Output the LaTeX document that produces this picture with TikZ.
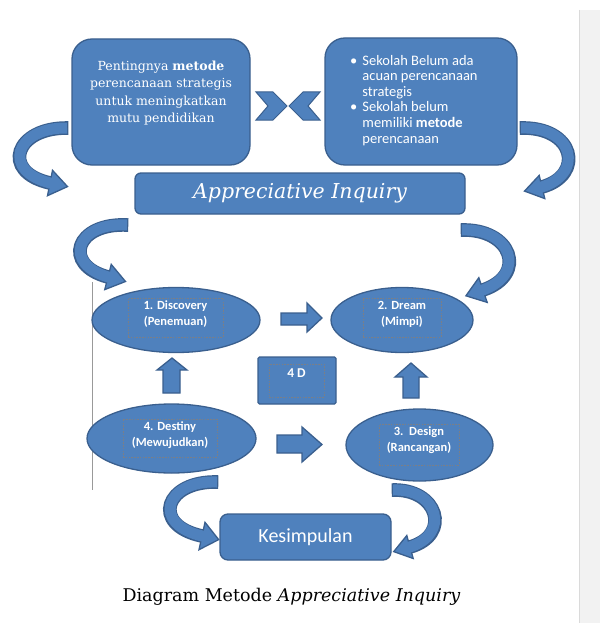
\documentclass[tikz,border=0pt]{standalone}
\usepackage{fontspec}
\setmainfont{DejaVu Serif}
\newfontfamily\boxserif{DejaVu Serif}
\newfontfamily\calib{Carlito}
\usetikzlibrary{shapes.geometric}
\definecolor{bfill}{HTML}{4F81BD}
\definecolor{bdraw}{HTML}{3A5F8E}
\definecolor{panel}{HTML}{F2F2F2}
\definecolor{paneledge}{HTML}{DADADA}
\definecolor{dashc}{HTML}{7A7F88}
\newcommand{\curvarr}[7]{%
  \path[shp] #5 -- #6 -- #7 -- cycle;
  \draw[bdraw, line width=13.6pt, shorten <=-1.3pt] #1 .. controls #2 and #3 .. #4;
  \draw[bfill, line width=11pt, shorten >=-2.5pt] #1 .. controls #2 and #3 .. #4;
}
\begin{document}
\begin{tikzpicture}[x=1pt,y=-1pt,
  shp/.style={fill=bfill, draw=bdraw, line width=1.3pt, line join=miter},
  rbox/.style={shp, rounded corners=#1, inner sep=0pt},
  ell/.style={shp, ellipse, inner sep=0pt},
  inrect/.style={draw=dashc, line width=0.8pt, dash pattern=on 1.6pt off 1.2pt, inner sep=0pt},
  wt/.style={text=white, align=center, inner sep=0pt},
  stxt/.style={wt, font=\calib\bfseries\fontsize{12.5}{16}\selectfont},
]
\useasboundingbox (0,0) rectangle (600,623);
% page edge panel
\fill[panel] (579,10) rectangle (600,623);
\draw[paneledge, line width=1.5pt] (579.5,10) -- (579.5,623);
% vertical grey line
\draw[black!40, line width=0.8pt] (92,282) -- (92,490);

% curved arrows
\curvarr{(67,128)}{(15,127)}{(0,172)}{(50,183)}{(52.5,170.3)}{(67.5,186.6)}{(47.5,195.7)}
\curvarr{(521,128)}{(575,126)}{(585,175)}{(542,187)}{(539.2,175.4)}{(524.5,191.1)}{(544.8,198.6)}
\curvarr{(127,225)}{(75,222)}{(62,265)}{(108,277)}{(111.25,264.4)}{(125.5,281.5)}{(104.75,289.6)}
\curvarr{(462,230)}{(512,228)}{(528,275)}{(483,290)}{(478.8,277.7)}{(465.9,295.8)}{(487.2,302.4)}
\curvarr{(217,482)}{(165,480)}{(150,525)}{(202,536)}{(205,522.3)}{(218.7,539.6)}{(199,549.7)}
\curvarr{(393,490)}{(438,488)}{(452,535)}{(410,547)}{(406.8,535.5)}{(393.7,551.6)}{(413.2,558.5)}

% top boxes
\node[rbox=20pt, minimum width=178pt, minimum height=126pt] (tl) at (161,102) {};
\node[wt, font=\boxserif\fontsize{12.5}{17.3}\selectfont] (tltext) at (161,93) {Pentingnya \textbf{metode}\\perencanaan strategis\\untuk meningkatkan\\mutu pendidikan};
\node[rbox=20pt, minimum width=192pt, minimum height=127pt] (tr) at (421,101.5) {};
\node[wt, anchor=west, font=\calib\fontsize{14.5}{15.6}\selectfont] (trtext) at (350,101) {%
  \begin{tabular}{@{}l@{\hspace{5pt}}l@{}}
  •& Sekolah Belum ada\\
   & acuan perencanaan\\
   & strategis\\
  •& Sekolah belum\\
   & memiliki \textbf{metode}\\
   & perencanaan
  \end{tabular}};
% bowtie
\path[shp, line width=1pt] (256,92) -- (273,92) -- (287,106) -- (273,120) -- (256,120) -- (268,106) -- cycle;
\path[shp, line width=1pt] (320,92) -- (303,92) -- (289,106) -- (303,120) -- (320,120) -- (308,106) -- cycle;

% Appreciative Inquiry
\node[rbox=6pt, minimum width=330pt, minimum height=41pt, text=white,
  font=\boxserif\itshape\fontsize{20.5}{22}\selectfont] (ai) at (300,193.5) {Appreciative Inquiry};

% ellipses
\node[ell, minimum width=168pt, minimum height=65pt] (disc) at (176,320) {};
\node[inrect, minimum width=95pt, minimum height=39pt] (discr) at (175.5,317.5) {};
\node[stxt] (disct) at (175.5,314) {1. Discovery\\(Penemuan)};

\node[ell, minimum width=142pt, minimum height=65pt] (dream) at (402,320) {};
\node[inrect, minimum width=78pt, minimum height=39pt] (dreamr) at (402,317.5) {};
\node[stxt] (dreamt) at (402,314) {2. Dream\\(Mimpi)};

\node[ell, minimum width=169pt, minimum height=69pt] (dest) at (171.5,438.5) {};
\node[inrect, minimum width=94pt, minimum height=38pt] (destr) at (170,438) {};
\node[stxt] (destt) at (170,435) {4. Destiny\\(Mewujudkan)};

\node[ell, minimum width=147pt, minimum height=72pt] (design) at (419.5,445) {};
\node[inrect, minimum width=80pt, minimum height=41pt] (designr) at (419,444.5) {};
\node[stxt] (designt) at (419,440) {3.\ \ Design\\(Rancangan)};

% 4 D
\node[rbox=1.5pt, minimum width=78pt, minimum height=47pt] (fourd) at (297,380.5) {};
\node[inrect, minimum width=55pt, minimum height=33pt] (fourdr) at (296.5,380.5) {};
\node[stxt, font=\calib\bfseries\fontsize{13.5}{16}\selectfont] (fourdt) at (296.5,373) {4 D};

% straight block arrows
\path[shp] (281,313) -- (307,313) -- (307,303) -- (322,318) -- (307,332) -- (307,325) -- (281,325) -- cycle;
\path[shp] (277,435) -- (302,435) -- (302,427) -- (322,444.5) -- (302,462) -- (302,453) -- (277,453) -- cycle;
\path[shp] (163,393) -- (163,370) -- (157,370) -- (172,358) -- (187,370) -- (180,370) -- (180,393) -- cycle;
\path[shp] (403,398) -- (403,377) -- (395,377) -- (411,363) -- (427,377) -- (419,377) -- (419,398) -- cycle;

% Kesimpulan
\node[rbox=8pt, minimum width=171pt, minimum height=46pt, text=white,
  font=\calib\fontsize{20}{22}\selectfont] (kes) at (305.5,537) {Kesimpulan};

% caption
\node[font=\fontsize{17.5}{20}\selectfont, inner sep=0pt] (cap) at (291.5,597) {Diagram Metode \textit{Appreciative Inquiry}};
\end{tikzpicture}
\end{document}
